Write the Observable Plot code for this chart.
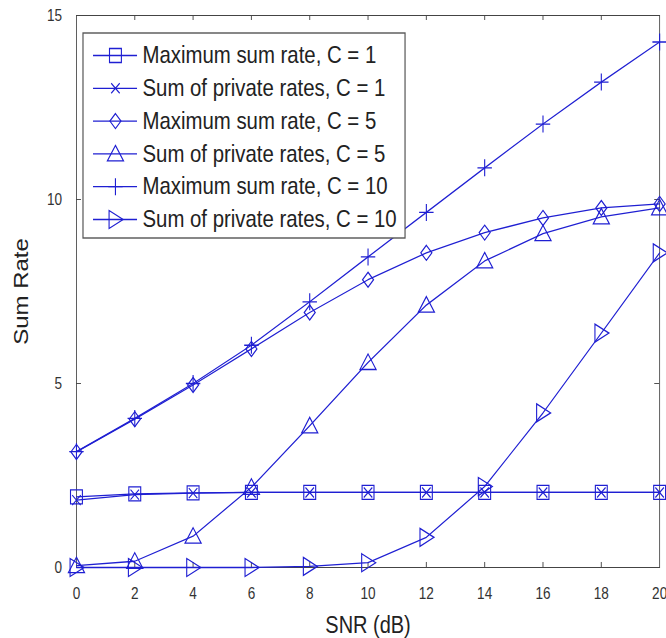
<!DOCTYPE html>
<html>
<head>
<meta charset="utf-8">
<script src="https://cdn.jsdelivr.net/npm/d3@7"></script>
<script src="https://cdn.jsdelivr.net/npm/@observablehq/plot@0.6"></script>
<style>
  html, body { margin: 0; padding: 0; background: #fff; overflow: hidden; }
  #chart svg { display: block; }
</style>
</head>
<body>
<div id="chart"></div>
<script>
// ---------------- data ----------------
const snr = [0, 2, 4, 6, 8, 10, 12, 14, 16, 18, 20];
const seriesNames = [
  "Maximum sum rate, C = 1",
  "Sum of private rates, C = 1",
  "Maximum sum rate, C = 5",
  "Sum of private rates, C = 5",
  "Maximum sum rate, C = 10",
  "Sum of private rates, C = 10"
];
const maxRateC1   = [1.92, 2.00, 2.03, 2.04, 2.04, 2.04, 2.04, 2.04, 2.04, 2.04, 2.04];
const privRateC1  = [1.83, 1.98, 2.02, 2.04, 2.04, 2.04, 2.04, 2.04, 2.04, 2.04, 2.04];
const maxRateC5   = [3.14, 4.03, 4.96, 5.94, 6.93, 7.82, 8.55, 9.10, 9.50, 9.77, 9.88];
const privRateC5  = [0.05, 0.17, 0.85, 2.18, 3.85, 5.57, 7.13, 8.33, 9.07, 9.53, 9.77];
const maxRateC10  = [3.15, 4.05, 5.00, 6.04, 7.22, 8.44, 9.65, 10.86, 12.05, 13.19, 14.28];
const privRateC10 = [0.00, 0.00, 0.00, 0.00, 0.03, 0.13, 0.82, 2.20, 4.20, 6.37, 8.55];
const xTicks = [0, 2, 4, 6, 8, 10, 12, 14, 16, 18, 20];
const yTicks = [0, 5, 10, 15];
const xLabel = "SNR (dB)";
const yLabel = "Sum Rate";

// ---------------- layout ----------------
const W = 784, H = 638;              // internal size; squished horizontally to 666
const ML = 89.5, MR = 8, MT = 15, MB = 71;
const X0 = 0, X1 = 20, Y0 = 0, Y1 = 15;
const BLUE = "#1f1fd2";
const px2x = px => X0 + (px - ML) / (W - ML - MR) * (X1 - X0);
const px2y = py => Y0 + (H - MB - py) / (H - MB - MT) * (Y1 - Y0);

// custom MATLAB-like markers
const mk = draw => ({draw});
const symbols = [
  mk(c => { c.moveTo(-7, -7); c.lineTo(7, -7); c.lineTo(7, 7); c.lineTo(-7, 7); c.closePath(); }),
  mk(c => { c.moveTo(-5, -5); c.lineTo(5, 5); c.moveTo(5, -5); c.lineTo(-5, 5); }),
  mk(c => { c.moveTo(0, -7.5); c.lineTo(6.5, 0); c.lineTo(0, 7.5); c.lineTo(-6.5, 0); c.closePath(); }),
  mk(c => { c.moveTo(0, -8.5); c.lineTo(9.5, 7); c.lineTo(-9.5, 7); c.closePath(); }),
  mk(c => { c.moveTo(-8.5, 0); c.lineTo(8.5, 0); c.moveTo(0, -8.5); c.lineTo(0, 8.5); }),
  mk(c => { c.moveTo(-7.5, -9); c.lineTo(9, 0); c.lineTo(-7.5, 9); c.closePath(); })
];

const seriesValues = [maxRateC1, privRateC1, maxRateC5, privRateC5, maxRateC10, privRateC10];
const table = seriesNames.map((name, s) =>
  snr.map((x, i) => ({series: name, s, x, y: seriesValues[s][i]})));

// legend geometry (internal px)
const legBox = {x1: 97.7, x2: 476.8, y1: 33, y2: 238};
const legLine = {x1: 109.5, x2: 161.3, mark: 135.4, text: 167.2};
const rowY = i => 55 + 32.8 * i;

const tickLenY = 0.136, tickLenX = 0.17;
const innerX = xTicks.filter(t => t > X0 && t < X1);
const innerY = yTicks.filter(t => t > Y0 && t < Y1);

const marks = [
  // inward ticks
  Plot.ruleX(innerX, {x: d => d, y1: () => Y0, y2: () => Y0 + tickLenY, stroke: "#444"}),
  Plot.ruleX(innerX, {x: d => d, y1: () => Y1, y2: () => Y1 - tickLenY, stroke: "#444"}),
  Plot.ruleY(innerY, {y: d => d, x1: () => X0, x2: () => X0 + tickLenX, stroke: "#444"}),
  Plot.ruleY(innerY, {y: d => d, x1: () => X1, x2: () => X1 - tickLenX, stroke: "#444"}),
  Plot.frame({stroke: "#444", strokeWidth: 1}),
  Plot.axisX({ticks: xTicks, tickSize: 0, tickPadding: 20, label: null, fontSize: 16, tickFormat: d => String(d)}),
  Plot.axisY({ticks: yTicks, tickSize: 0, tickPadding: 17, label: null, fontSize: 16, tickFormat: d => String(d)}),
  // data
  ...table.map(rows => Plot.line(rows, {x: "x", y: "y", stroke: BLUE, strokeWidth: 1.3})),
  ...table.map((rows, s) => Plot.dot(rows, {x: "x", y: "y", symbol: symbols[s], r: 7, fill: "none", stroke: BLUE, strokeWidth: 1.3})),
  // axis labels
  Plot.text([xLabel], {text: d => d, frameAnchor: "bottom", dy: 57.6, textAnchor: "middle", lineAnchor: "middle", fontSize: 23.5, fill: "#222"}),
  Plot.text([yLabel], {text: d => d, frameAnchor: "left", dx: -64.8, rotate: -90, textAnchor: "middle", lineAnchor: "middle", fontSize: 24, fill: "#222"}),
  // legend
  Plot.rect([0], {x1: () => px2x(legBox.x1), x2: () => px2x(legBox.x2), y1: () => px2y(legBox.y1), y2: () => px2y(legBox.y2), fill: "white", stroke: "#555", strokeWidth: 1.4}),
  Plot.ruleY(seriesNames, {y: (d, i) => px2y(rowY(i)), x1: () => px2x(legLine.x1), x2: () => px2x(legLine.x2), stroke: BLUE, strokeWidth: 1.3}),
  ...seriesNames.map((name, s) => Plot.dot([name], {x: () => px2x(legLine.mark), y: () => px2y(rowY(s)), symbol: symbols[s], r: 7, fill: "none", stroke: BLUE, strokeWidth: 1.3})),
  Plot.text(seriesNames, {x: () => px2x(legLine.text), y: (d, i) => px2y(rowY(i)), text: d => d, textAnchor: "start", lineAnchor: "middle", fontSize: 24, fill: "#222"})
];

const chart = Plot.plot({
  width: W, height: H,
  marginLeft: ML, marginRight: MR, marginTop: MT, marginBottom: MB,
  x: {domain: [X0, X1]},
  y: {domain: [Y0, Y1]},
  style: {fontFamily: "'Liberation Sans', Arial, Helvetica, sans-serif", color: "#333", background: "white", overflow: "visible"},
  marks
});

chart.setAttribute("width", 666);
chart.setAttribute("height", H);
chart.setAttribute("viewBox", `0 0 ${W} ${H}`);
chart.setAttribute("preserveAspectRatio", "none");
chart.style.width = "666px";
chart.style.height = H + "px";
chart.style.maxWidth = "none";
document.getElementById("chart").appendChild(chart);
</script>
</body>
</html>
